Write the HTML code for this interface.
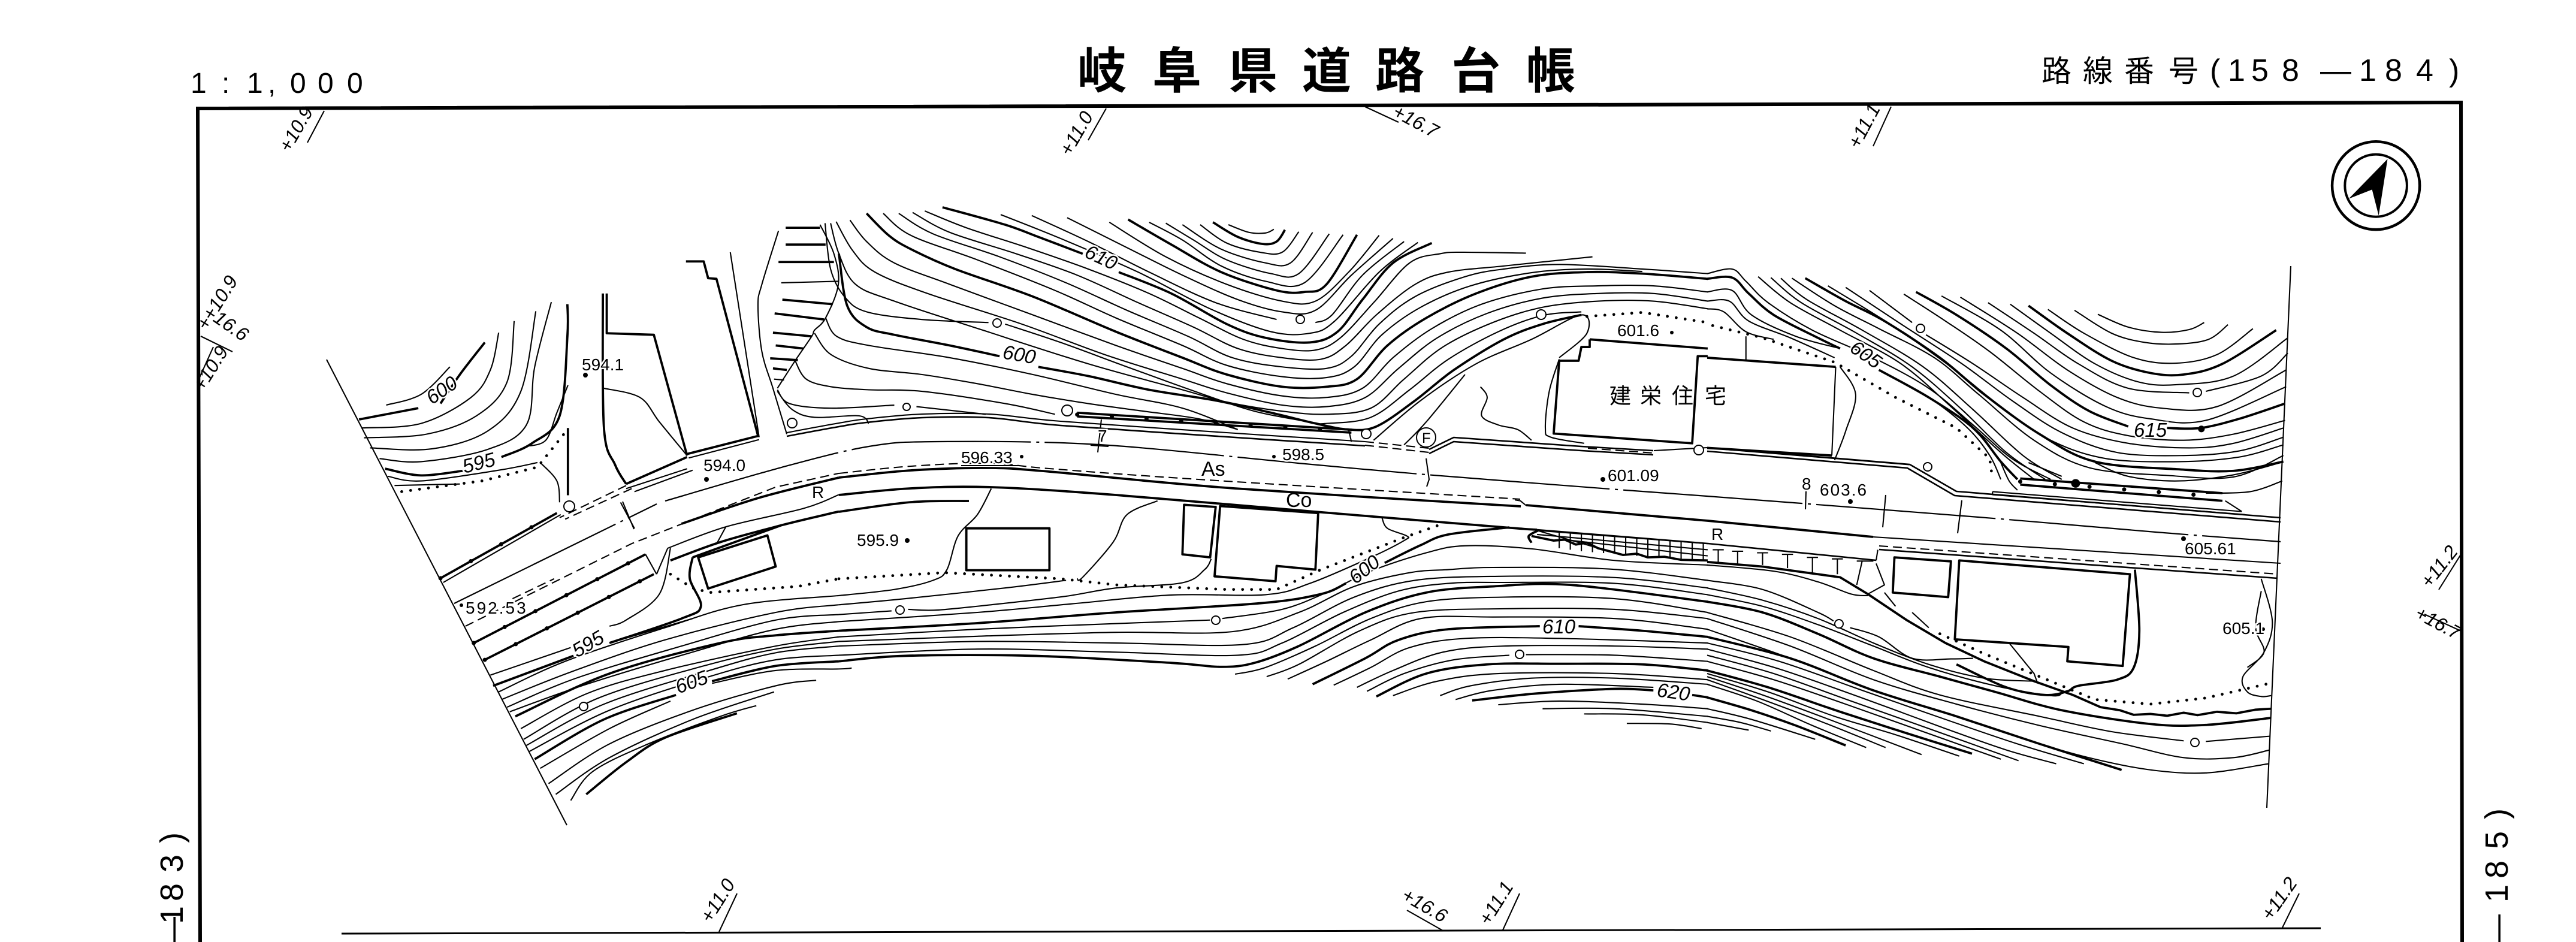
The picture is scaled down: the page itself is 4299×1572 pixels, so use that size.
<!DOCTYPE html>
<html lang="ja"><head><meta charset="utf-8"><title>岐阜県道路台帳</title>
<style>
html,body{margin:0;padding:0;background:#fff}
svg{display:block}
path,line,circle,ellipse{vector-effect:non-scaling-stroke}
.t{fill:none;stroke:#000;stroke-width:2.1;stroke-linejoin:round}
.b{fill:none;stroke:#000;stroke-width:3.8;stroke-linejoin:round}
.f{fill:none;stroke:#000;stroke-width:6}
.d{fill:none;stroke:#000;stroke-width:4.8;stroke-linecap:round;stroke-dasharray:0 15}
.h{fill:none;stroke:#000;stroke-width:2.1;stroke-dasharray:15 8}
.c{fill:none;stroke:#000;stroke-width:2.2;stroke-dasharray:300 9 5 9}
.r{fill:none;stroke:#000;stroke-width:7;stroke-linecap:round;stroke-dasharray:0 58}
.q{fill:#fff;stroke:#000;stroke-width:2}
text{font-family:"Liberation Sans","Noto Sans CJK JP",sans-serif;fill:#000}
.m{font-size:28px;paint-order:stroke;stroke:#fff;stroke-width:5px}
.i{font-size:33px;font-style:italic;paint-order:stroke;stroke:#fff;stroke-width:5px}
.s{font-size:32px;font-style:italic}
.v{font-size:54px}
</style></head><body>
<svg xmlns="http://www.w3.org/2000/svg" width="4299" height="1572" viewBox="0 0 4299 1572">
<rect width="4299" height="1572" fill="#fff"/>

<!-- frame -->
<path class="f" d="M334 1572 L330 181 L4107 171 L4109 1572"/>
<path class="t" style="stroke-width:3" d="M570 1558 L3873 1549"/>
<path class="t" d="M545 600 L946 1377 M3823 444 L3783 1348"/>

<!-- Z1 upper-left -->
<g transform="translate(0,0) scale(.9247,.5102)">
<path class="t sm" d="M697 1325 760 1290 812 1200 M653 1400 760 1385 850 1300 885 1210 900 1088 M657 1432 770 1420 860 1360 915 1250 928 1050 M668 1465 780 1468 880 1410 940 1280 967 1018 M685 1500 760 1510 880 1470 950 1390 965 1200 995 988 M700 1558 760 1573 900 1538 970 1513 M1025 1260 1005 1350 985 1440 950 1460 M712 1588 830 1583 M975 1513 1005 1573 1010 1643
M1090 1270 1155 1300 1190 1380 1240 1490 M1405 755 1375 930 1368 1000 1375 1150 1395 1270 1420 1420
M1480 735 1505 830 1513 930 1490 1040 1470 1080 1465 1100 1435 1180 1403 1270"/>
<path class="t" d="M1318 825 1370 1430 M1243 1498 1370 1438"/>
<path class="b sm" d="M648 1372 755 1335 M795 1320 830 1225 875 1120 M695 1533 760 1555 835 1540 M905 1495 960 1450 1010 1360 1024 1100 1024 995 M1088 960 1090 1400 1110 1520 1130 1583"/>
<path class="b" d="M1025 1400 1025 1620 M1095 960 1095 1090 1180 1095 1240 1490 M1238 855 1270 855 1278 910 1293 912 1368 1425 M1240 1485 1370 1425
M1130 1583 1240 1495 M1418 745 1480 745 M1418 800 1490 800 M1405 857 1505 857 M1412 980 1503 995 M1398 1025 1487 1045 M1395 1088 1465 1100 M1400 1130 1450 1140 M1390 1172 1440 1178 M1395 1205 1420 1210"/>
<path class="t" d="M1410 925 1513 920 M1397 1240 1415 1243"/>
<path class="d" d="M725 1608 870 1573 970 1528 1022 1410"/>
</g>

<!-- Z4 lower-left -->
<g transform="translate(0,772) scale(.9247,.5102)">
<path class="t sm" d="M1210 280 1190 430 1130 515 1100 535 M1205 280 1310 210 1450 150 1514 105
M900 750 1020 650 1200 540 1340 465 1514 435 M905 775 1030 685 1200 580 1400 490 1514 465 M915 800 1040 705 1230 600 1400 515 1514 497 M920 815 1050 730 1240 625 1400 545 1514 520
M940 870 1060 755 1200 680 1400 600 1514 570 M945 905 1080 770 1270 665 1400 610 1514 585 M950 925 1090 790 1280 680 1400 622 1514 600 M955 945 1100 810 1280 700 1400 645 1514 630
M975 1000 1100 870 1210 780 M1285 722 1400 680 1514 675 1537 672 M990 1050 1100 920 1250 810 1400 730 1473 712 M1003 1085 1100 965 1250 840 1397 750 M1030 1105 1070 1010 1170 920 1300 830 1365 795"/>
<path class="t" d="M1130 85 1240 20 M1145 95 1250 25 M1005 165 795 378 M1012 170 800 392 M1310 210 1295 260 M1120 130 1145 215 M1165 300 1185 365 M1185 365 1205 280 M885 695 1030 605 M1100 590 1250 510"/>
<path class="b" d="M795 378 1005 165 M855 590 1165 300 M875 645 1180 365 M1260 310 1385 238 1400 340 1278 412 Z"/>
<path class="b sm" d="M1230 200 1370 115 1514 49 M1210 320 1300 260 1410 205 1490 170 1514 160 M1250 310 1410 205 M1250 310 1245 380 1265 470 1230 510 1100 590 M1035 632 890 730 M930 830 1100 690 1300 590 1400 565 1514 550 M965 970 1090 840 1220 760 M1285 715 1400 665 1514 650 M1058 1085 1130 980 1200 900 1330 820"/>
<path class="h" d="M840 535 1140 265 1400 80 1514 35 M925 445 1000 380"/>
<path class="h" d="M1130 75 1010 180 M1140 85 1020 185"/>
<path class="d" d="M1210 365 1250 410 1280 425 1440 405 1514 380"/>
<path class="r" d="M855 590 1165 300 M875 645 1180 365 M795 378 1005 165"/>
</g>

<!-- Z2 upper-mid contours -->
<g transform="translate(1400,0) scale(.9247,.5102)">
<path class="t sm" d="M703 735 740 760 770 762 785 750 M652 735 700 795 760 825 800 825 830 758 M620 735 690 815 770 860 815 860 855 760 M590 730 640 785 700 850 780 895 830 895 885 765 M560 727 620 785 690 870 770 920 840 925 910 768
M488 727 590 840 700 930 800 985 860 985 920 890 975 770 M412 712 520 810 620 900 720 980 800 1020 860 1015 925 900 1000 780 M348 705 450 790 560 890 680 990 790 1045 M860 1055 890 1030 945 900 1020 790 M292 702 400 780 540 890 670 1010 780 1085 850 1090 895 1050 975 890 1045 793
M155 690 230 745 340 810 450 880 560 960 650 1040 730 1110 800 1140 860 1145 905 1105 965 990 1030 860 1085 830 1125 825 1240 828
M133 695 200 760 320 830 430 900 540 990 640 1070 720 1140 800 1170 870 1175 915 1130 970 1030 1040 930 1100 890 1200 870 1360 840
M108 698 170 765 290 840 410 925 520 1015 630 1100 710 1170 800 1200 880 1205 925 1165 975 1060 1040 970 1130 905 1200 880 1300 865 1450 880 1568 895
M80 698 130 770 250 850 390 950 500 1040 620 1130 700 1195 800 1232 880 1235 930 1200 980 1095 1050 1005 1140 935 1250 892 1350 880 1450 888
M20 720 50 790 100 860 200 930 350 1030 500 1130 620 1205 700 1255 800 1295 880 1300 945 1270 1000 1170 1070 1075 1160 995 1270 945 1370 935 1470 935 1568 955
M-5 725 25 820 65 890 160 960 330 1060 480 1160 620 1240 700 1285 800 1325 880 1330 950 1300 1010 1205 1080 1105 1170 1025 1270 975 1370 960 1470 960 1568 985
M-15 730 0 830 30 930 100 985 260 1080 450 1190 620 1275 700 1315 800 1345 880 1355 960 1335 1020 1240 1090 1135 1180 1055 1270 1005 1370 985 1470 985 1568 1010
M-25 730 -15 880 10 970 50 1020 150 1045 270 1055 M300 1060 400 1120 520 1200 650 1285 750 1345 850 1380 880 1385 960 1365 1030 1275 1100 1175 1190 1085 1270 1032 1340 1020
M-24 1040 -4 1100 54 1130 200 1170 350 1225 500 1290 620 1335 720 1405 M-44 1090 -14 1160 54 1205 150 1225 250 1255 350 1290 450 1320 550 1345 650 1370 720 1405
M-79 1180 -59 1240 -14 1265 54 1275 150 1280 300 1320 390 1355 M-111 1275 -89 1320 -14 1335 100 1325 M140 1330 265 1355
M-111 1280 -84 1340 -44 1365 36 1360 54 1385
M965 1440 1050 1310 1150 1190 1250 1110 1340 1030 1350 1090 1300 1170
M1020 1455 1060 1380 1130 1225
M1158 1265 1170 1300 1160 1360 1190 1390 1225 1405 1250 1440
M1300 1175 1282 1280 1275 1400 1285 1430 1345 1450"/>
<path class="b sm" d="M675 727 720 775 765 798 790 790 805 752 M522 718 600 800 690 890 790 950 840 955 880 930 935 768
M187 678 300 735 360 775 440 830 M505 890 600 960 700 1060 770 1105 850 1120 900 1085 945 980 1000 860 1070 795
M50 698 90 770 130 815 210 880 350 970 500 1085 620 1170 700 1225 800 1265 880 1265 935 1240 990 1130 1060 1040 1150 960 1250 905 1350 890 1450 895 1568 912
M0 830 15 1000 50 1070 100 1095 200 1130 290 1165 M360 1200 450 1230 560 1275 680 1310 780 1350 860 1385 920 1405 970 1395 1040 1310 1110 1210 1200 1110 1270 1060 1340 1030"/>
<path class="b" d="M430 1350 920 1405 M430 1362 925 1415
M1355 1110 1568 1140 M1355 1110 1355 1135 1340 1135 1335 1180 1300 1180 1290 1418 1540 1450 1550 1165 1568 1165"/>
<path class="t" d="M920 1405 925 1445"/>
<path class="d" d="M1350 1035 1450 1022 1568 1055"/>
<path class="r" d="M430 1356 920 1410"/>
</g>

<!-- road edges, global -->
<path class="t sm" d="M1313 722 1400 706 1446 699 1539 691 1650 691 1770 703 2047 722 2278 737"/>
<path class="t sm" style="stroke-width:2.6" d="M1313 728 1400 712 1446 705 1539 697 1650 697 1770 710 2047 729 2278 744"/>
<path class="h" d="M2278 737 2385 748 M2278 743 2385 755"/>
<path class="t" style="stroke-width:2.6" d="M2385 750 2426 730 2639 745 2759 752 M2385 757 2426 737 2639 752 2759 759 M2849 747 3187 775 3265 820 3806 864 M2849 753 3183 781 3262 827 3806 871"/>
<path class="h" d="M2650 748 2760 756"/>
<path class="t" d="M2760 752 2849 747"/>
<path class="c sm" d="M758 1007 1096 841 M1110 836 1304 780 1450 745 1566 737 1835 742 2167 773 2380 792 2713 818 2849 828 3302 863 3598 888 3806 904"/>
<path class="h sm" d="M1400 790 1520 778 1650 773 1751 782 2000 800 2537 833"/>
<path class="b sm" d="M1400 797 1520 785 1650 781 1751 787 2060 815 2538 845"/>
<path class="b" d="M2547 843 2850 869 3126 896"/>
<path class="t" d="M3126 896 3806 940"/>
<path class="b sm" style="stroke-width:3.8" d="M1400 826 1520 815 1654 813 1862 826 2195 854 2510 880 2565 884 M1400 854 1520 838 1617 836"/>
<path class="t" style="stroke-width:2.6" d="M2565 884 2850 907 3131 935 M3136 917 3801 965"/>
<path class="h" d="M3136 911 3801 958"/>

<!-- Z3 upper right -->
<g transform="translate(2849,0) scale(.9247,.5102)">
<path class="t sm" d="M705 1028 760 1070 820 1087 870 1078 897 1055 M663 1015 730 1090 790 1120 850 1125 905 1110 940 1062 M615 1012 680 1090 770 1170 845 1188 920 1160 985 1075
M547 995 620 1090 700 1190 780 1250 850 1258 950 1230 1048 1105 M507 990 590 1090 670 1190 760 1270 870 1285 M900 1280 1000 1230 1048 1155 M457 972 560 1090 650 1210 740 1300 820 1335 920 1330 1045 1210 M423 968 530 1080 620 1220 720 1330 800 1370 900 1375 1045 1265
M355 962 430 1050 510 1150 600 1280 680 1380 760 1425 860 1440 950 1420 1043 1375 M293 950 370 1055 M395 1095 480 1190 570 1300 660 1400 760 1450 870 1465 950 1450 1040 1400 M250 940 350 1060 460 1190 550 1310 640 1415 740 1480 860 1490 960 1475 1040 1430 M218 935 330 1060 440 1200 530 1330 620 1440 720 1500 850 1510 960 1495 1040 1455
M153 910 230 1000 310 1075 410 1170 490 1290 590 1440 690 1530 830 1555 950 1560 1040 1490 M133 910 180 980 280 1080 390 1200 480 1340 570 1490 640 1568 M115 908 170 990 270 1090 370 1200 460 1340 540 1480 610 1568 M92 905 150 990 240 1080 350 1190 440 1330 530 1480 590 1568
M0 895 45 880 70 920 110 990 190 1080 300 1170 400 1270 480 1390 550 1500 620 1568
M0 955 45 950 80 1030 160 1100 240 1140 M0 985 40 985 75 1050 150 1105 230 1170 M0 1010 30 1020 70 1085 120 1110 M310 1210 400 1300 470 1400 510 1490 530 1568
M240 1200 268 1290 250 1410 230 1505"/>
<path class="t" d="M70 1100 70 1180 M225 1490 232 1200 M0 1465 365 1520"/>
<path class="b sm" d="M177 910 250 985 320 1050 420 1170 500 1290 600 1420 700 1510 850 1535 950 1540 1040 1510 M377 955 450 1030 540 1140 620 1260 690 1345 760 1395 M830 1400 890 1400 960 1370 1043 1320
M580 1000 650 1090 730 1180 800 1220 860 1225 930 1190 1027 1080 M0 912 45 908 75 960 120 1030 200 1105 240 1140 M310 1210 400 1300 480 1400 530 1510 560 1568"/>
<path class="b" d="M0 1170 232 1200 M0 1465 225 1490"/>
<path class="d" d="M10 1065 100 1105 230 1185 340 1300 450 1400 510 1500 515 1568"/>
<ellipse cx="1207" cy="607" rx="79" ry="144" fill="none" stroke="#000" stroke-width="4.5"/>
<ellipse cx="1207" cy="607" rx="56" ry="102" fill="none" stroke="#000" stroke-width="4"/>
<path d="M1228 520 1158 650 1200 620 1212 705 Z" fill="#000"/>
<ellipse cx="892" cy="1403" rx="6" ry="11" fill="#000"/>
</g>

<!-- Z5 lower mid -->
<g transform="translate(1400,772) scale(.9247,.5102)">
<path class="t sm" d="M0 435 100 415 170 385 195 350 215 240 250 170 275 85 M575 125 520 170 495 260 440 375 430 380 M0 465 120 445 300 410 410 385
M0 497 95 485 M125 480 180 482 300 460 410 437 500 410 620 393 660 350 672 315 M0 520 250 490 420 462 600 433 770 432 850 395 960 310 1020 255 1025 240 990 215 980 180
M0 570 250 545 450 530 670 515 M692 510 800 480 880 425 960 355 1060 295 1130 272 1250 282 1400 320 1568 335 M0 585 250 568 500 555 710 553 830 490 930 405 1030 360 1100 350 1180 343 1390 348 1568 385
M0 600 250 585 500 590 730 595 820 540 930 440 1040 385 1190 372 1400 376 1568 410 M0 630 250 610 500 620 720 630 800 590 910 490 1010 420 1100 395 1200 392 1400 395 1568 432
M715 692 770 670 860 600 960 510 1060 455 1200 440 1400 445 1568 490 M772 700 830 660 940 550 1040 490 1200 478 1400 480 1568 510 M810 708 880 650 960 580 1050 510 1180 505 1400 510 1568 545
M893 728 960 670 1030 605 1130 575 1300 575 1568 590 M935 735 1000 680 1090 620 1200 600 1400 600 1568 610 M953 748 1020 690 1110 645 1210 630 M1240 628 1400 630 1568 650 M1000 762 1080 715 1190 690 1400 690 1568 710 M1085 762 1140 730 1250 705 1400 705 1568 725 M1113 775 1180 745 1300 725 1470 735 M1190 792 1300 780 1450 790 1568 805 M1270 805 1400 805 1568 830 M1345 822 1450 825 1568 850 M1422 853 1500 855 1557 870"/>
<path class="t" d="M1240 140 1230 125 1220 122 M1260 222 1568 265 M1260 235 1568 285 M1300 250 1568 305
M1300 230V280 M1320 232V285 M1340 235V290 M1360 238V293 M1380 240V296 M1400 243V298 M1420 246V300 M1440 248V305 M1460 251V308 M1480 254V310 M1500 256V312 M1520 258V315 M1540 261V316 M1560 264V318 M1260 222 1400 295"/>
<path class="b" d="M230 215H380V352H230Z M623 138 680 145 670 310 620 300Z M688 142 865 165 860 350 790 338 788 388 678 372Z"/>
<path class="b sm" d="M0 550 250 525 500 490 760 460 870 430 915 395 M985 328 1050 270 1100 235 1210 212 M0 650 120 632 350 632 600 655 690 668 750 655 830 600 950 490 1060 425 1180 405 1320 400 1568 455
M855 725 950 640 1010 580 1100 545 1265 535 M1335 535 1450 550 1568 570 M970 765 1060 690 1170 660 1300 658 1450 660 1568 680 M1143 778 1260 755 1400 740 1470 745 M1540 760 1568 768
M1250 262 1245 240 1262 222"/>
<path class="b" d="M1250 240 1290 255 1310 252 1330 268 1350 262 1370 280 1395 292 1415 302 1440 298 1460 310 1490 308 1520 318 1568 320"/>
<path class="d" d="M0 380 190 360 400 380 500 400 700 415 790 415 870 350 1020 245 1090 200"/>
</g>

<!-- Z6 lower right -->
<g transform="translate(2849,772) scale(.9247,.5102)">
<path class="t sm" d="M0 335 120 355 200 390 260 430 290 435 M0 385 100 415 200 490 228 518 M258 540 310 570 370 640 440 642 480 640 M0 410 100 450 200 510 300 590 400 660 500 705 590 715
M0 432 100 470 200 530 300 600 400 670 520 730 620 762 640 755 M0 490 150 570 300 680 420 760 600 830 730 880 860 910 M900 912 1015 895 M0 510 150 600 300 710 450 790 600 860 750 920 860 965 950 965 1015 940 M0 545 150 640 300 745 450 830 600 920 700 970 800 1005 900 1015 1013 985
M0 590 130 650 280 745 430 840 560 920 680 985 M0 610 130 675 280 770 430 870 540 940 630 985 M0 630 120 690 260 780 400 870 562 975 M0 650 120 710 250 790 390 880 530 970
M0 690 110 750 230 830 340 890 455 960 M0 700 100 760 220 840 387 955 M0 710 100 775 210 850 322 932 M0 725 90 780 190 860 287 932 M0 805 80 840 195 905 M0 830 60 850 115 878 M0 850 75 875
M530 0 545 60 560 90 M580 0 640 45 M700 0 760 45 850 60 950 40 1035 0 M1038 60 980 95 900 100
M1000 380 1020 520 1005 620 967 700 975 750 1000 765 1018 762 M1000 420 990 540 1005 620 975 670"/>
<path class="t" d="M515 95 965 160 M515 105 970 170 M515 95 515 105 M935 125 965 160 M545 590 590 690 595 715 M308 285 305 320
M20 285V325 M55 290V335 M100 295V335 M145 300V345 M190 310V360 M235 315V365 M280 320 270 400 M305 330 320 400 290 430 M320 425 340 470 M370 490 400 540 M10 285H30 M45 290H65 M90 295H110 M135 300H155 M180 310H200 M225 315H245 M270 322H300"/>
<path class="b" d="M338 310 440 323 435 440 335 425Z M455 320 763 365 750 665 650 650 652 603 447 578 Z M565 52 930 100 M565 72 930 125
M0 325 100 340 240 375 290 430 360 515 430 590 500 650 590 715 660 760 710 800 745 810 770 825 800 822 830 828 860 818 885 826 920 815 955 820 990 808 1018 805"/>
<path class="b sm" d="M0 455 100 490 200 560 300 640 420 700 520 750 640 810 800 855 900 858 1018 835
M0 570 150 640 300 745 450 830 600 920 748 1005
M0 680 110 735 240 815 360 885 478 952 M0 768 80 810 160 860 250 925
M772 350 780 550 770 670 740 710 670 730 650 748 610 760 540 735 450 660"/>
<path class="d" d="M420 560 500 625 640 730 700 775 800 790 900 770 1020 720"/>
<path class="r" d="M565 62 930 112"/>
<ellipse cx="665" cy="68" rx="8" ry="14" fill="#000"/>
</g>

<!-- Q markers -->
<g>
<circle class="q" cx="1664" cy="539" r="7"/><circle class="q" cx="2170" cy="533" r="7"/><circle class="q" cx="2572" cy="525" r="8"/><circle class="q" cx="1513" cy="679" r="6"/><circle class="q" cx="1781" cy="685" r="9"/><circle class="q" cx="2280" cy="724" r="8"/><circle class="q" cx="2835" cy="751" r="8"/><circle class="q" cx="3205" cy="548" r="7"/><circle class="q" cx="3667" cy="655" r="7"/><circle class="q" cx="3217" cy="779" r="7"/><circle class="q" cx="1322" cy="706" r="8"/><circle class="q" cx="950" cy="845" r="9"/><circle class="q" cx="974" cy="1179" r="7"/><circle class="q" cx="1502" cy="1018" r="7"/><circle class="q" cx="2029" cy="1035" r="7"/><circle class="q" cx="2536" cy="1092" r="7"/><circle class="q" cx="3069" cy="1041" r="7"/><circle class="q" cx="3663" cy="1239" r="7"/>
<circle class="q" cx="2380" cy="730" r="16"/>
<circle cx="977" cy="626" r="4"/><circle cx="1179" cy="800" r="4"/><circle cx="1705" cy="762" r="3"/><circle cx="2126" cy="762" r="3"/><circle cx="2790" cy="555" r="3"/><circle cx="2675" cy="800" r="4"/><circle cx="3088" cy="837" r="4"/><circle cx="3644" cy="899" r="4"/><circle cx="3777" cy="1050" r="3"/><circle cx="1514" cy="902" r="4"/><circle cx="770" cy="1010" r="3"/>
</g>

<!-- station ticks -->
<path class="t" d="M541 185 513 238 M1846 181 1816 234 M2278 178 2334 204 M3156 178 3126 244 M388 587 335 561 M356 579 333 630 M4107 925 4070 984 M4046 1025 4107 1053 M1200 1555 1230 1491 M2348 1519 2408 1553 M2508 1552 2536 1491 M3809 1548 3837 1491"/>
<path class="t" d="M1838 700 1832 755 M1820 743 1850 745 M3014 820 3013 850 M2380 765 2385 800 2381 812 M1039 837 1058 883 M3147 826 3142 880 M3274 835 3267 890"/>

<!-- headers -->
<text x="318" y="155" font-size="48">1</text><text x="370" y="155" font-size="48">:</text><text x="412" y="155" font-size="48">1</text><text x="447" y="155" font-size="48">,</text><text x="484" y="155" font-size="48">0</text><text x="530" y="155" font-size="48">0</text><text x="579" y="155" font-size="48">0</text>
<text y="147" font-size="82" font-weight="700" x="1798 1923 2050 2173 2295 2422 2547">岐阜県道路台帳</text>
<text y="136" font-size="50" x="3407 3476 3545 3619">路線番号</text>
<text y="135" font-size="52" x="3688 3718 3757 3808 3872 3937 3980 4032 4087">(158—184)</text>

<text class="v" transform="translate(305,1572) rotate(-90)" x="-12 30 68 116 165">—183)</text>
<text class="v" transform="translate(4185,1572) rotate(-90)" x="-8 66 106 155 205">—185)</text>

<!-- station labels -->
<text class="s" transform="translate(483,256) rotate(-60)">+10.9</text>
<text class="s" transform="translate(1786,262) rotate(-60)">+11.0</text>
<text class="s" transform="translate(2322,193) rotate(28)">+16.7</text>
<text class="s" transform="translate(3102,250) rotate(-62)">+11.1</text>
<text class="s" transform="translate(345,553) rotate(-58)">++10.9</text>
<text class="s" transform="translate(354,535) rotate(35)">16.6</text>
<text class="s" transform="translate(339,655) rotate(-58)">+10.9</text>
<text class="s" transform="translate(4055,983) rotate(-52)">+11.2</text>
<text class="s" transform="translate(4028,1030) rotate(28)">+16.7</text>
<text class="s" transform="translate(1186,1542) rotate(-58)">+11.0</text>
<text class="s" transform="translate(2337,1500) rotate(30)">+16.6</text>
<text class="s" transform="translate(2485,1546) rotate(-58)">+11.1</text>
<text class="s" transform="translate(3790,1538) rotate(-55)">+11.2</text>

<!-- map labels -->
<text class="m" x="971" y="618">594.1</text>
<text class="m" x="1174" y="786">594.0</text>
<text class="m" x="777" y="1024" letter-spacing="3">592.53</text>
<text class="m" x="1604" y="773">596.33</text>
<path class="t" d="M1604 777 1700 777"/>
<text class="m" x="2140" y="768">598.5</text>
<text class="m" x="2699" y="561">601.6</text>
<text class="m" x="2683" y="803">601.09</text>
<text class="m" x="3037" y="827" letter-spacing="2">603.6</text>
<text class="m" x="3646" y="925">605.61</text>
<text class="m" x="3709" y="1058">605.1</text>
<text class="m" x="1430" y="911">595.9</text>
<text class="m" x="1355" y="831">R</text>
<text class="m" x="2856" y="901">R</text>
<text class="m" x="1832" y="737">7</text>
<text class="m" x="3007" y="817">8</text>
<text x="2005" y="794" font-size="34">As</text>
<text x="2146" y="846" font-size="34">Co</text>
<text x="2373" y="739" font-size="24">F</text>
<text y="673" font-size="36" x="2686 2737 2790 2845">建栄住宅</text>

<text class="i" transform="translate(721,676) rotate(-35)">600</text>
<text class="i" transform="translate(775,790) rotate(-14)">595</text>
<text class="i" transform="translate(963,1098) rotate(-30)">595</text>
<text class="i" transform="translate(1132,1158) rotate(-20)">605</text>
<text class="i" transform="translate(1808,428) rotate(25)">610</text>
<text class="i" transform="translate(1672,598) rotate(10)">600</text>
<text class="i" transform="translate(3085,585) rotate(35)">605</text>
<text class="i" transform="translate(3561,729)">615</text>
<text class="i" transform="translate(2262,976) rotate(-38)">600</text>
<text class="i" transform="translate(2574,1057)">610</text>
<text class="i" transform="translate(2764,1162) rotate(8)">620</text>
</svg>
<script>
document.querySelectorAll('path.sm').forEach(function(p){
  var out='';
  p.getAttribute('d').split('M').forEach(function(s){
    var n=s.trim().split(/[\s,]+/).map(Number);
    if(n.length<2||n.some(isNaN))return;
    var a=[];for(var i=0;i+1<n.length;i+=2)a.push([n[i],n[i+1]]);
    out+='M'+a[0][0]+' '+a[0][1];
    for(var j=0;j<a.length-1;j++){
      var p0=a[j-1]||a[j],p1=a[j],p2=a[j+1],p3=a[j+2]||p2;
      out+='C'+(p1[0]+(p2[0]-p0[0])/6).toFixed(1)+' '+(p1[1]+(p2[1]-p0[1])/6).toFixed(1)+' '+(p2[0]-(p3[0]-p1[0])/6).toFixed(1)+' '+(p2[1]-(p3[1]-p1[1])/6).toFixed(1)+' '+p2[0]+' '+p2[1];
    }
  });
  p.setAttribute('d',out);
});
</script>
</body></html>
